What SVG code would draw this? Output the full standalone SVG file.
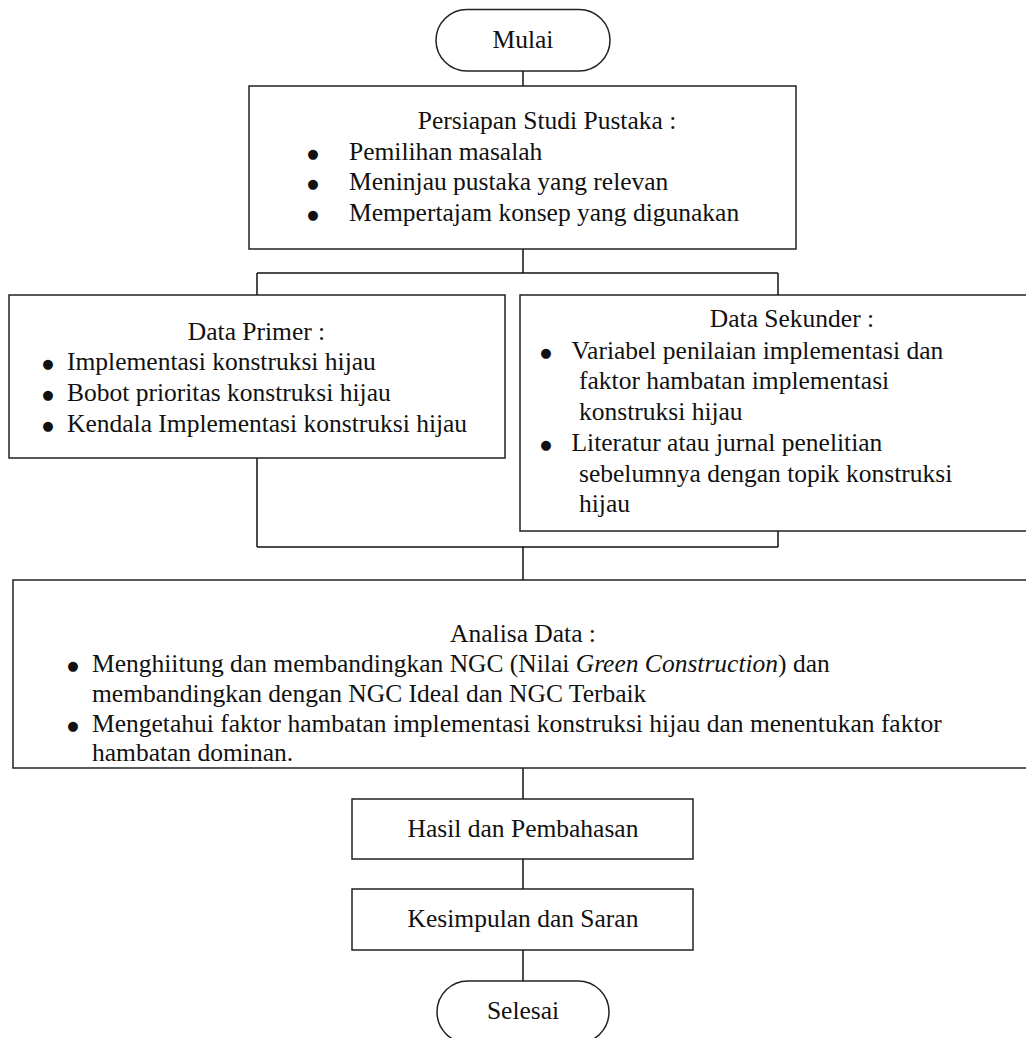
<svg xmlns="http://www.w3.org/2000/svg" width="1026" height="1038" viewBox="0 0 1026 1038">
<style>
.box{fill:#fff;stroke:#222;stroke-width:1.5}
.ln{fill:none;stroke:#111;stroke-width:1.5}
text{font-family:"Liberation Serif","Times New Roman",serif;font-size:25.5px;fill:#111}
.c{text-anchor:middle}
.b{text-anchor:middle;font-family:"DejaVu Sans","Liberation Sans",sans-serif;font-size:13px}
</style>
<rect width="1026" height="1038" fill="#fff"/>
<g id="connectors">
<path class="ln" d="M523,71V86"/>
<path class="ln" d="M523,249V273M257,273H778M257,273V295M778,273V295"/>
<path class="ln" d="M257,458V547M778,531V547M257,547H778M523,547V580"/>
<path class="ln" d="M523,768V799"/>
<path class="ln" d="M523,859V889"/>
<path class="ln" d="M523,950V981"/>
</g>
<g id="mulai">
<rect class="box" x="436" y="9.5" width="174" height="61.5" rx="31" ry="30.75"/>
<text class="c" x="523" y="48">Mulai</text>
</g>
<g id="persiapan">
<rect class="box" x="249" y="86" width="547" height="163"/>
<text class="c" x="547" y="128.5">Persiapan Studi Pustaka :</text>
<text class="b" x="313" y="157.5">●</text>
<text x="349" y="159.5">Pemilihan masalah</text>
<text class="b" x="313" y="188">●</text>
<text x="349" y="190">Meninjau pustaka yang relevan</text>
<text class="b" x="313" y="218.5">●</text>
<text x="349" y="220.5">Mempertajam konsep yang digunakan</text>
</g>
<g id="data-primer">
<rect class="box" x="9" y="295" width="496" height="163"/>
<text class="c" x="256.5" y="340">Data Primer :</text>
<text class="b" x="48" y="368">●</text>
<text x="67" y="370">Implementasi konstruksi hijau</text>
<text class="b" x="48" y="399">●</text>
<text x="67" y="401">Bobot prioritas konstruksi hijau</text>
<text class="b" x="48" y="430">●</text>
<text x="67" y="432">Kendala Implementasi konstruksi hijau</text>
</g>
<g id="data-sekunder">
<rect class="box" x="520" y="295" width="520" height="236"/>
<text class="c" x="792" y="327">Data Sekunder :</text>
<text class="b" x="546" y="356.5">●</text>
<text x="571.5" y="358.5">Variabel penilaian implementasi dan</text>
<text x="579" y="389">faktor hambatan implementasi</text>
<text x="579" y="419.5">konstruksi hijau</text>
<text class="b" x="546" y="449">●</text>
<text x="571.5" y="451">Literatur atau jurnal penelitian</text>
<text x="579" y="481.5">sebelumnya dengan topik konstruksi</text>
<text x="579" y="512">hijau</text>
</g>
<g id="analisa">
<rect class="box" x="13" y="580" width="1030" height="188"/>
<text class="c" x="523" y="642">Analisa Data :</text>
<text class="b" x="73" y="670">●</text>
<text x="92" y="672">Menghiitung dan membandingkan NGC (Nilai <tspan font-style="italic">Green Construction</tspan>) dan</text>
<text x="92" y="702">membandingkan dengan NGC Ideal dan NGC Terbaik</text>
<text class="b" x="73" y="730">●</text>
<text x="92" y="732">Mengetahui faktor hambatan implementasi konstruksi hijau dan menentukan faktor</text>
<text x="92" y="761">hambatan dominan.</text>
</g>
<g id="hasil">
<rect class="box" x="352" y="799" width="341" height="60"/>
<text class="c" x="523" y="837">Hasil dan Pembahasan</text>
</g>
<g id="kesimpulan">
<rect class="box" x="352" y="889" width="341" height="61"/>
<text class="c" x="523" y="927">Kesimpulan dan Saran</text>
</g>
<g id="selesai">
<rect class="box" x="437" y="981" width="172" height="62" rx="31" ry="31"/>
<text class="c" x="523" y="1019">Selesai</text>
</g>
</svg>
